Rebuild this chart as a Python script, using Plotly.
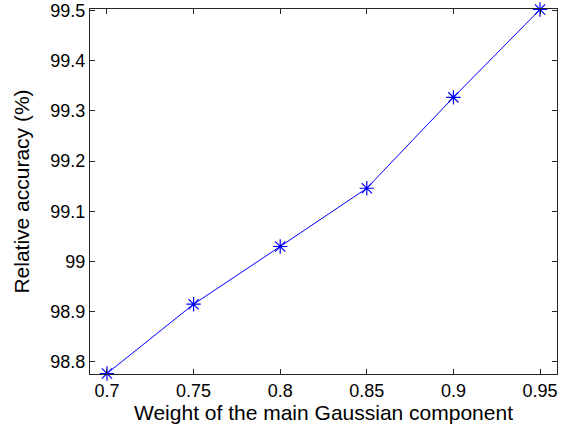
import plotly.graph_objects as go

weights = [0.7, 0.75, 0.8, 0.85, 0.9, 0.95]
accuracy = [98.777, 98.915, 99.030, 99.146, 99.327, 99.502]
x_ticks = [0.7, 0.75, 0.8, 0.85, 0.9, 0.95]
x_tick_labels = ["0.7", "0.75", "0.8", "0.85", "0.9", "0.95"]
y_ticks = [98.8, 98.9, 99.0, 99.1, 99.2, 99.3, 99.4, 99.5]
y_tick_labels = ["98.8", "98.9", "99", "99.1", "99.2", "99.3", "99.4", "99.5"]

FONT = "Liberation Sans, Arial"

fig = go.Figure()
fig.add_trace(go.Scatter(
    x=weights, y=accuracy, mode="lines+markers",
    line=dict(color="#0000FF", width=1),
    marker=dict(symbol="asterisk-open", size=12, color="#0000FF",
                line=dict(color="#0000FF", width=1.2)),
    cliponaxis=False, showlegend=False,
))

axis_common = dict(
    showgrid=False, zeroline=False, showline=True, linecolor="#262626",
    linewidth=1, mirror="ticks", ticks="inside", ticklen=5, automargin=False,
    tickcolor="#262626", tickfont=dict(family=FONT, size=18, color="#000"),
)
fig.update_xaxes(range=[0.6902, 0.9598], tickvals=x_ticks, ticktext=x_tick_labels,
                 title=dict(text="Weight of the main Gaussian component",
                            font=dict(family=FONT, size=21, color="#000"),
                            standoff=2),
                 **axis_common)
fig.update_yaxes(range=[98.776, 99.503], tickvals=y_ticks, ticktext=y_tick_labels,
                 title=dict(text="Relative accuracy (%)",
                            font=dict(family=FONT, size=21, color="#000")),
                 **axis_common)
fig.update_layout(
    width=571, height=430, margin=dict(l=90, r=14, t=9, b=56),
    plot_bgcolor="white", paper_bgcolor="white",
)
fig.write_html("out.html", post_script="document.body.style.margin='0';",
               config={"displayModeBar": False})
